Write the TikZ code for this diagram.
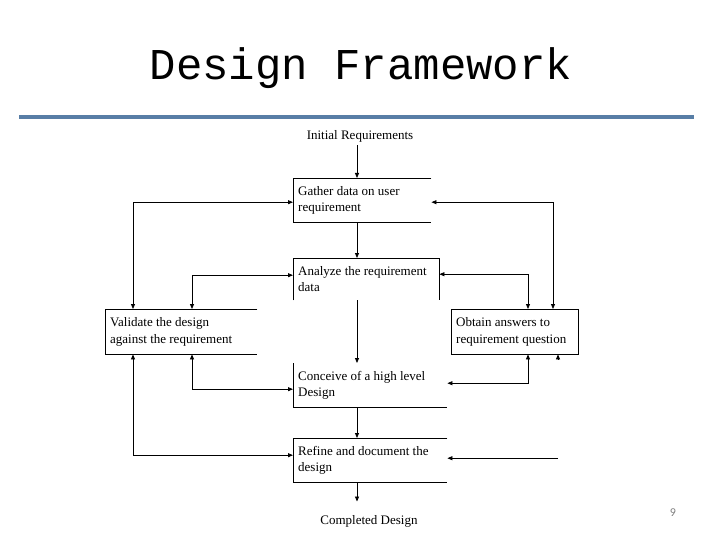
\documentclass[tikz,border=0pt]{standalone}
\usepackage{fontspec}
\setmainfont{Liberation Serif}
\newfontfamily\titlefont{Liberation Mono}
\newfontfamily\pagefont{Carlito}
\usetikzlibrary{arrows.meta}
\definecolor{rulecol}{RGB}{88,126,166}

\begin{document}
\begin{tikzpicture}[
        x=1pt, y=-1pt,
        every node/.style={font=\fontsize{13}{16.5}\selectfont},
        box/.style={anchor=north west,inner xsep=5pt,inner ysep=0pt,align=flush left},
        border/.style={black,line width=0.8pt},
        link/.style={black,line width=0.8pt,-{Triangle[length=5pt,width=4pt]}},
        twoway/.style={black,line width=0.8pt,{Triangle[length=5pt,width=4pt]}-{Triangle[length=5pt,width=4pt]}}
    ]
        \useasboundingbox (0,0) rectangle (720,540);

        \node[font=\titlefont\fontsize{44}{44}\selectfont] (title) at (361,68) {Design Framework};
        \draw[rulecol,line width=4pt] (19,117) -- (694,117);

        \node (init) at (360,136) {Initial Requirements};
        \node[box,text width=128pt,minimum height=44pt] (gather) at (293,178) {Gather data on user\\requirement};
        \node[box,text width=136pt,minimum height=42pt] (analyze) at (293,258) {Analyze the requirement\\data};
        \node[box,text width=142pt,minimum height=45pt] (validate) at (105,309) {Validate the design\\against the requirement};
        \node[box,text width=117pt,minimum height=45pt] (obtain) at (451,309) {Obtain answers to\\requirement question};
        \node[box,text width=144pt,minimum height=44pt] (conceive) at (293,363) {Conceive of a high level\\Design};
        \node[box,text width=144pt,minimum height=44pt] (refine) at (293,438) {Refine and document the\\design};
        \node (done) at (369,521) {Completed Design};
        \node[font=\pagefont\fontsize{12}{12}\selectfont,text=gray] (page) at (673,513) {9};

        \draw[border] (gather.north east) -- (gather.north west) -- (gather.south west) -- (gather.south east);
        \draw[border] (analyze.south west) -- (analyze.north west) -- (analyze.north east) -- (analyze.south east);
        \draw[border] (validate.north east) -- (validate.north west) -- (validate.south west) -- (validate.south east);
        \draw[border] (obtain.north west) rectangle (obtain.south east);
        \draw[border] (conceive.north west) -- (conceive.south west) -- (conceive.south east);
        \draw[border] (refine.north east) -- (refine.north west) -- (refine.south west) -- (refine.south east);

        \coordinate (spine) at (357,0);
        \coordinate (va) at (133,0);
        \coordinate (vb) at (192,0);
        \coordinate (oa) at (528,0);
        \coordinate (ob) at (553,0);
        \coordinate (oc) at (558,0);

        \draw[link] (init.south -| spine) -- (gather.north -| spine);
        \draw[link] (gather.south -| spine) -- (analyze.north -| spine);
        \draw[link] (analyze.south -| spine) -- (conceive.north -| spine);
        \draw[link] (conceive.south -| spine) -- (refine.north -| spine);
        \draw[link,shorten >=10pt] (refine.south -| spine) -- (done.north -| spine);

        \draw[twoway] (validate.north -| va) |- ([yshift=-2pt]gather.west);
        \draw[twoway] (validate.north -| vb) |- ([yshift=4pt]analyze.west);
        \draw[twoway] (validate.south -| vb) |- ([yshift=-4pt]conceive.west);
        \draw[twoway] (validate.south -| va) |- ([yshift=5pt]refine.west);

        \draw[twoway] (obtain.north -| ob) |- ([yshift=-2pt]gather.east);
        \draw[twoway] (obtain.north -| oa) |- ([yshift=5pt]analyze.east);
        \draw[twoway] (obtain.south -| oa) |- ([yshift=2pt]conceive.east);
        \draw[link] ([yshift=-5pt]obtain.south -| oc) -- (obtain.south -| oc);
        \draw[link] ([yshift=2pt]refine.east -| oc) -- ([yshift=2pt]refine.east);
    \end{tikzpicture}
\end{document}
